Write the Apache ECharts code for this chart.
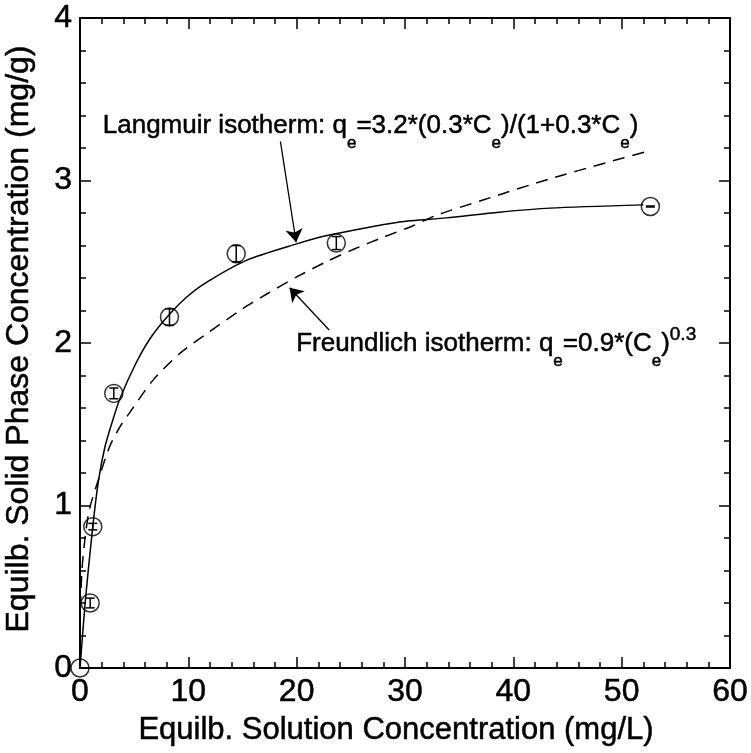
<!DOCTYPE html>
<html><head><meta charset="utf-8">
<script src="https://cdn.jsdelivr.net/npm/echarts@6/dist/echarts.min.js"></script>
<style>html,body{margin:0;padding:0;background:#fff}#c{width:751px;height:753px}</style>
</head><body><div id="c"></div>
<script>
// ---- data ----
const xTicks = [0, 10, 20, 30, 40, 50, 60];
const yTicks = [0, 1, 2, 3, 4];
const obsC   = [0, 0.94, 1.18, 3.12, 8.26, 14.42, 23.66, 52.65];
const obsQ   = [0, 0.40, 0.87, 1.69, 2.16, 2.55, 2.615, 2.84];
const obsErr = [0, 0.03, 0.02, 0.033, 0.05, 0.05, 0.04, 0.003];
const langC = [0, 0.5, 1.18, 1.7, 2.3, 3.0, 3.7, 5.2, 6.6, 8.3, 9.8, 11.6, 15.4, 20.0, 22.7, 29.5, 33.8, 38.7, 43.4, 52.0];
const langQ = [0, 0.42, 0.87, 1.15, 1.36, 1.52, 1.66, 1.88, 2.04, 2.18, 2.28, 2.37, 2.51, 2.61, 2.66, 2.745, 2.77, 2.805, 2.83, 2.85];
const freuC = [0, 0.04, 0.2, 0.5, 0.88, 1.8, 2.72, 3.65, 4.57, 6.72, 9.19, 11.96, 15.0, 17.2, 19.96, 22.73, 25.2, 27.96, 30.7, 32.9, 37.2, 43.35, 48.6, 52.1];
const freuQ = [0, 0.38, 0.62, 0.82, 0.98, 1.18, 1.36, 1.48, 1.57, 1.77, 1.935, 2.07, 2.21, 2.30, 2.405, 2.50, 2.575, 2.65, 2.72, 2.786, 2.88, 3.01, 3.11, 3.175];
const xTitle = 'Equilb. Solution Concentration (mg/L)';
const yTitle = 'Equilb. Solid Phase Concentration (mg/g)';
const langArrow = [[18.5, 3.24], [19.95, 2.62]];
const freuArrow = [[23.0, 2.08], [19.35, 2.34]];
const langLabelAt = [2.1, 3.28];   // left, baseline (data coords)
const freuLabelAt = [19.95, 1.94];

const FONT = '"Liberation Sans", Arial, Helvetica, sans-serif';
const chart = echarts.init(document.getElementById('c'), null, {renderer: 'canvas'});

const pairs = (a, b) => a.map((v, i) => [v, b[i]]);
const heavy = {textBorderColor: '#000', textBorderWidth: 0.5};

function axisCommon(showLabel) {
  return {
    type: 'value',
    axisLine: {show: true, onZero: false, lineStyle: {color: '#000', width: 2}},
    axisTick: {show: true, inside: true, length: 11, lineStyle: {color: '#000', width: 1.5}},
    minorTick: {show: true, splitNumber: 5, length: 6, lineStyle: {color: '#000', width: 1.5}},
    splitLine: {show: false},
    minorSplitLine: {show: false},
    axisLabel: Object.assign({show: showLabel, color: '#000', fontSize: 32, fontFamily: FONT, margin: 8}, heavy)
  };
}

const option = {
  backgroundColor: '#fff',
  animation: false,
  grid: {left: 80, right: 21, top: 18, bottom: 85, containLabel: false, outerBoundsMode: 'none'},
  xAxis: [
    Object.assign(axisCommon(true), {
      position: 'bottom', min: xTicks[0], max: xTicks[xTicks.length - 1], interval: xTicks[1] - xTicks[0],
      name: xTitle, nameLocation: 'middle', nameGap: 47,
      nameTextStyle: Object.assign({color: '#000', fontSize: 31, fontFamily: FONT, padding: [0, 18, 0, 0]}, heavy)
    }),
    Object.assign(axisCommon(false), {
      position: 'top', min: xTicks[0], max: xTicks[xTicks.length - 1], interval: xTicks[1] - xTicks[0]
    })
  ],
  yAxis: [
    Object.assign(axisCommon(true), {
      position: 'left', min: yTicks[0], max: yTicks[yTicks.length - 1], interval: yTicks[1] - yTicks[0],
      name: yTitle, nameLocation: 'middle', nameGap: 45,
      nameTextStyle: Object.assign({color: '#000', fontSize: 32, fontFamily: FONT, padding: [0, 0, 0, 8]}, heavy)
    }),
    Object.assign(axisCommon(false), {
      position: 'right', min: yTicks[0], max: yTicks[yTicks.length - 1], interval: yTicks[1] - yTicks[0]
    })
  ],
  series: [
    {
      type: 'line', name: 'Langmuir', data: pairs(langC, langQ), showSymbol: false, symbol: 'none', smooth: 0.25,
      lineStyle: {color: '#000', width: 1.5}, z: 3, silent: true
    },
    {
      type: 'line', name: 'Freundlich', data: pairs(freuC, freuQ), showSymbol: false, symbol: 'none', smooth: 0.25,
      lineStyle: {color: '#000', width: 1.5, type: [12, 8]}, z: 3, silent: true
    },
    {
      type: 'scatter', name: 'obs', data: pairs(obsC, obsQ), symbol: 'circle', symbolSize: 18,
      itemStyle: {color: 'rgba(255,255,255,0)', borderColor: '#000', borderWidth: 1.5}, z: 5, silent: true
    },
    {
      type: 'custom', name: 'err', z: 6, silent: true,
      data: obsC.map((c, i) => [c, obsQ[i], obsErr[i]]),
      renderItem: function (params, api) {
        const c = api.value(0), q = api.value(1), e = api.value(2);
        if (!(e > 0)) return null;
        const t = api.coord([c, q + e]), b = api.coord([c, q - e]);
        const w = 4.5, st = {stroke: '#000', lineWidth: 1.5};
        return {type: 'group', children: [
          {type: 'line', shape: {x1: t[0], y1: t[1], x2: b[0], y2: b[1]}, style: st},
          {type: 'line', shape: {x1: t[0] - w, y1: t[1], x2: t[0] + w, y2: t[1]}, style: st},
          {type: 'line', shape: {x1: b[0] - w, y1: b[1], x2: b[0] + w, y2: b[1]}, style: st}
        ]};
      }
    },
    {
      type: 'lines', coordinateSystem: 'cartesian2d', silent: true, z: 7,
      symbol: ['none', 'arrow'], symbolSize: [0, 13],
      lineStyle: {color: '#000', width: 1.3, curveness: 0, opacity: 1},
      data: [{coords: langArrow}, {coords: freuArrow}]
    }
  ]
};
chart.setOption(option);

const rich = {
  n: {fontSize: 26, lineHeight: 26, fontFamily: FONT, color: '#000', padding: [10, 0, 0, 0], verticalAlign: 'top'},
  s: {fontSize: 17, lineHeight: 17, fontFamily: FONT, color: '#000', padding: [32, 0, 0, 0], verticalAlign: 'top'},
  p: {fontSize: 19, lineHeight: 19, fontFamily: FONT, color: '#000', padding: [5, 0, 0, 0], verticalAlign: 'top'}
};
function label(at, text) {
  const p = chart.convertToPixel({xAxisIndex: 0, yAxisIndex: 0}, at);
  return {type: 'text', x: p[0], y: p[1] - 32, z: 100, silent: true,
    style: {text: text, rich: rich, x: 0, y: 0, align: 'left', verticalAlign: 'top',
            fill: '#000', stroke: '#000', lineWidth: 0.5}};
}
chart.setOption({graphic: [
  label(langLabelAt, '{n|Langmuir isotherm: q}{s|e}{n|=3.2*(0.3*C}{s|e}{n|)/(1+0.3*C}{s|e}{n|)}'),
  label(freuLabelAt, '{n|Freundlich isotherm: q}{s|e}{n|=0.9*(C}{s|e}{n|)}{p|0.3}')
]});
</script>
</body></html>
